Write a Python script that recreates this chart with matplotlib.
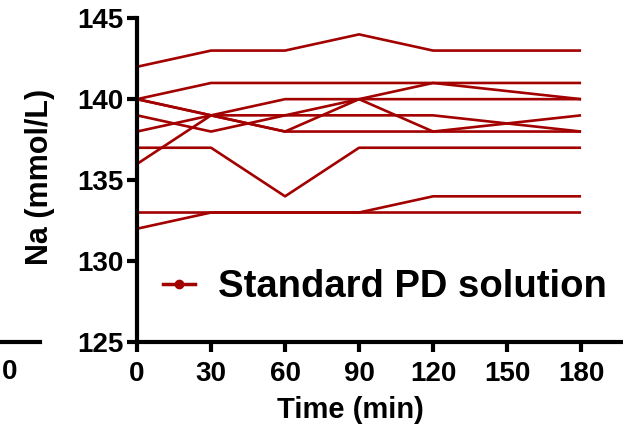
import matplotlib
matplotlib.use("Agg")
import matplotlib.pyplot as plt
from matplotlib.lines import Line2D

plt.rcParams['font.family'] = ['Liberation Sans', 'DejaVu Sans']
plt.rcParams['font.weight'] = 'bold'

# sampling times (min)
time = [0, 30, 60, 90, 120, 180]

# Na (mmol/L) per patient
na_1 = [142, 143, 143, 144, 143, 143]
na_2 = [140, 141, 141, 141, 141, 141]
na_3 = [140, 139, 138, 140, 138, 139]
na_4 = [140, 139, 138, 138, 138, 138]
na_5 = [139, 138, 139, 140, 141, 140]
na_6 = [138, 139, 140, 140, 140, 140]
na_7 = [137, 137, 134, 137, 137, 137]
na_8 = [136, 139, 139, 139, 139, 138]
na_9 = [133, 133, 133, 133, 134, 134]
na_10 = [132, 133, 133, 133, 133, 133]
patients = [na_1, na_2, na_3, na_4, na_5, na_6, na_7, na_8, na_9, na_10]

xticks = [0, 30, 60, 90, 120, 150, 180]
yticks = [125, 130, 135, 140, 145]

red = '#a30000'

fig = plt.figure(figsize=(6.23, 4.33), dpi=100)
ax = fig.add_axes([0.22, 0.21, 0.78, 0.748])

for p in patients:
    ax.plot(time, p, color=red, lw=1.9, solid_capstyle='butt')

ax.set_xlim(0, 197)
ax.set_ylim(125, 145)
ax.set_xticks(xticks)
ax.set_yticks(yticks)
ax.tick_params(axis='both', width=3, length=7.5, labelsize=20, direction='out')
ax.tick_params(axis='x', pad=6)
ax.tick_params(axis='y', pad=2)
for lab in ax.get_xticklabels() + ax.get_yticklabels():
    lab.set_fontweight('bold')
ax.spines['top'].set_visible(False)
ax.spines['right'].set_visible(False)
ax.spines['left'].set_linewidth(3)
ax.spines['bottom'].set_linewidth(3)
ax.spines['left'].set_bounds(125, 145)

ax.set_xlabel('Time (min)', fontsize=21, fontweight='bold')
ax.xaxis.set_label_coords(0.44, -0.165)
ax.set_ylabel('Na (mmol/L)', fontsize=22, fontweight='bold')
ax.yaxis.set_label_coords(-0.168, 0.51)

proxy = Line2D([], [], color=red, lw=2.5, marker='o', markersize=6)
ax.legend([proxy], ['Standard PD solution'], loc='center left',
          bbox_to_anchor=(0.053, 0.17), frameon=False,
          prop={'weight': 'bold', 'size': 27.5}, handlelength=0.85,
          handletextpad=0.6, borderpad=0, borderaxespad=0)

# piece of the neighbouring panel at the left edge
fig.add_artist(Line2D([0, 0.065], [0.21, 0.21], color='black', lw=3,
                      transform=fig.transFigure))
fig.text(0.003, 0.14, '0', ha='left', va='center', fontsize=20,
         fontweight='bold')

fig.savefig('out.png', dpi=100)
